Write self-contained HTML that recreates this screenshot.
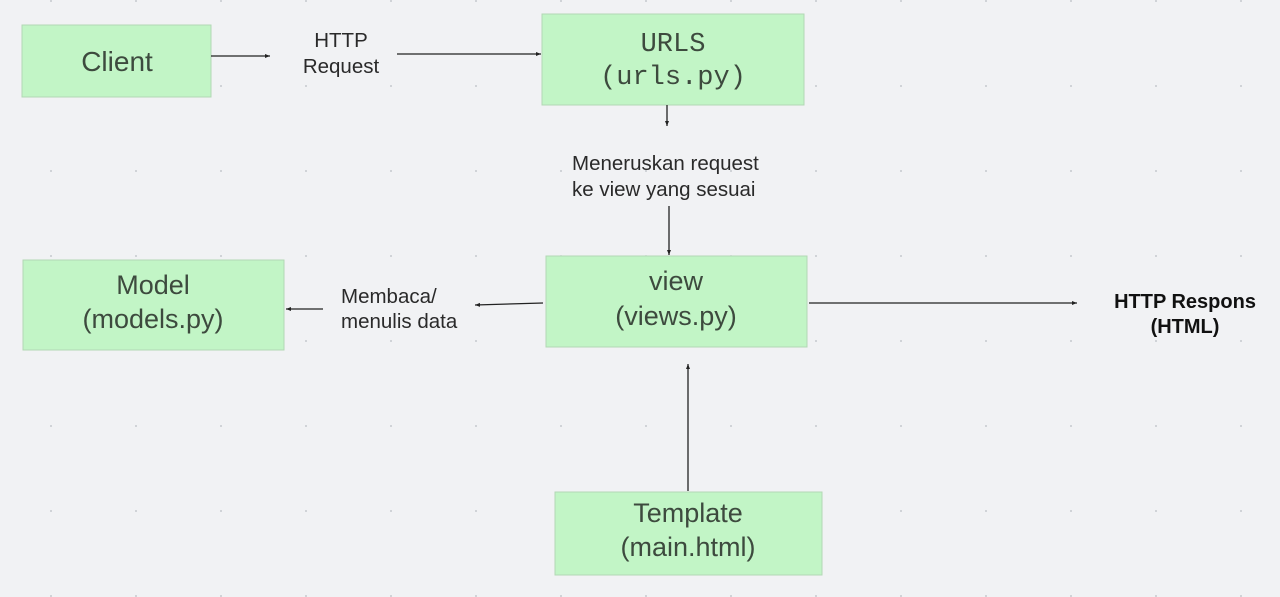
<!DOCTYPE html>
<html><head><meta charset="utf-8"><style>
html,body{margin:0;padding:0;background:#f1f2f4;}
svg{display:block;}
.s{font-family:"Liberation Sans",sans-serif;}
.m{font-family:"Liberation Mono",monospace;}
</style></head><body>
<svg width="1280" height="597" viewBox="0 0 1280 597" xmlns="http://www.w3.org/2000/svg">
<defs>
<pattern id="g" x="51" y="1" width="85" height="85" patternUnits="userSpaceOnUse">
<circle cx="0" cy="0" r="0.9" fill="#b8bcc2"/><circle cx="85" cy="0" r="0.9" fill="#b8bcc2"/><circle cx="0" cy="85" r="0.9" fill="#b8bcc2"/><circle cx="85" cy="85" r="0.9" fill="#b8bcc2"/>
</pattern>
<marker id="a" markerWidth="6" markerHeight="6" refX="5" refY="3" orient="auto" markerUnits="userSpaceOnUse"><path d="M0,1 L5,3 L0,5 Z" fill="#222"/></marker>
</defs>
<rect width="1280" height="597" fill="#f1f2f4"/>
<rect width="1280" height="597" fill="url(#g)"/>
<g fill="#c2f5c6" stroke="#b2d8b5" stroke-width="1">
<rect x="22" y="25" width="189" height="72"/>
<rect x="542" y="14" width="262" height="91"/>
<rect x="23" y="260" width="261" height="90"/>
<rect x="546" y="256" width="261" height="91"/>
<rect x="555" y="492" width="267" height="83"/>
</g>
<g stroke="#222" stroke-width="1.3" fill="none" marker-end="url(#a)">
<line x1="211" y1="56" x2="270" y2="56"/>
<line x1="397" y1="54" x2="541" y2="54"/>
<line x1="667" y1="105" x2="667" y2="126"/>
<line x1="669" y1="206" x2="669" y2="255"/>
<line x1="543" y1="303" x2="475" y2="305"/>
<line x1="323" y1="309" x2="286" y2="309"/>
<line x1="809" y1="303" x2="1077" y2="303"/>
<line x1="688" y1="491" x2="688" y2="364"/>
</g>
<g fill="#3d4a3e" text-anchor="middle" class="s" font-size="27">
<text x="117" y="71" font-size="28">Client</text>
<text x="153" y="294">Model</text>
<text x="153" y="328">(models.py)</text>
<text x="676" y="290">view</text>
<text x="676" y="325">(views.py)</text>
<text x="688" y="522">Template</text>
<text x="688" y="556">(main.html)</text>
</g>
<g fill="#3d4a3e" text-anchor="middle" class="m" font-size="27">
<text x="673" y="51">URLS</text>
<text x="673" y="84">(urls.py)</text>
</g>
<g fill="#2a2a2a" font-size="20.5" class="s">
<text x="341" y="47" text-anchor="middle">HTTP</text>
<text x="341" y="73" text-anchor="middle">Request</text>
<text x="572" y="170">Meneruskan request</text>
<text x="572" y="196">ke view yang sesuai</text>
<text x="341" y="303">Membaca/</text>
<text x="341" y="328">menulis data</text>
</g>
<g fill="#111" font-size="20" font-weight="bold" text-anchor="middle" class="s">
<text x="1185" y="308">HTTP Respons</text>
<text x="1185" y="333">(HTML)</text>
</g>
</svg>
</body></html>
